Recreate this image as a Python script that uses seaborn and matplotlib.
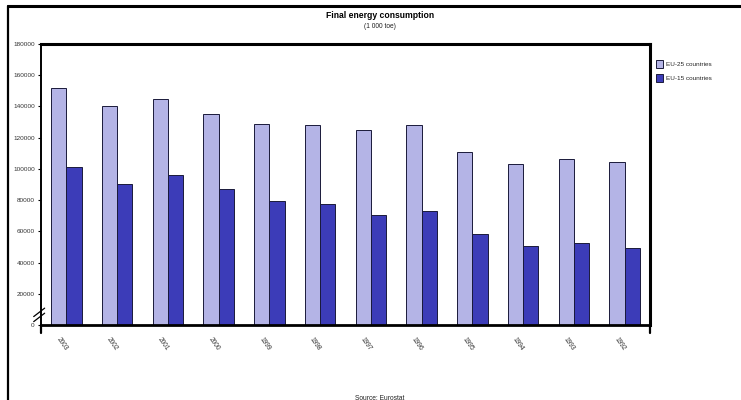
import matplotlib
matplotlib.use("Agg")
import matplotlib.pyplot as plt
import matplotlib.transforms as mtransforms
from matplotlib.lines import Line2D
import seaborn as sns
import pandas as pd

# Final energy consumption, thousand tonnes of oil equivalent
years = ["2003", "2002", "2001", "2000", "1999", "1998",
         "1997", "1996", "1995", "1994", "1993", "1992"]
series_names = ["EU-25 countries", "EU-15 countries"]
light_values = [152000, 140000, 145000, 135000, 129000, 128400,
                124800, 128400, 111100, 103000, 106600, 104300]
dark_values = [101100, 90400, 96000, 87000, 79400, 77400,
               70400, 73100, 58200, 50600, 52500, 49500]
y_ticks = [0, 20000, 40000, 60000, 80000, 100000, 120000, 140000, 160000, 180000]

df = pd.DataFrame({
    "year": years * 2,
    "series": [series_names[0]] * len(years) + [series_names[1]] * len(years),
    "value": light_values + dark_values,
})

sns.set_theme(style="white")
plt.rcParams["font.family"] = ["Liberation Sans", "DejaVu Sans"]

fig = plt.figure(figsize=(7.41, 4.0), dpi=100)
ax = fig.add_axes([41 / 741, 1 - 325 / 400, 609 / 741, 281 / 400])

palette = {series_names[0]: "#b4b4e6", series_names[1]: "#3c3cb8"}
sns.barplot(data=df, x="year", y="value", hue="series", order=years,
            hue_order=series_names, palette=palette, width=0.6,
            edgecolor="#1a1a3a", linewidth=0.7, saturation=1,
            ax=ax, legend=False)

ax.set_xlim(-0.5, len(years) - 0.5)
ax.set_ylim(0, 180000)
ax.set_yticks(y_ticks)
ax.set_yticklabels([str(v) for v in y_ticks], fontsize=4.6, color="#333333")
ax.tick_params(axis="y", length=2.5, width=0.8, pad=2, left=True, color="black")
ax.set_xticks(range(len(years)))
ax.set_xticklabels(years, rotation=-55, ha="left", va="top",
                   rotation_mode="anchor", fontsize=4.8, color="#333333")
ax.tick_params(axis="x", length=0, pad=8)
shift = mtransforms.ScaledTranslation(-6 / 100, 0, fig.dpi_scale_trans)
for lbl in ax.get_xticklabels():
    lbl.set_transform(lbl.get_transform() + shift)
ax.set_xlabel("")
ax.set_ylabel("")

for side, lw in (("left", 1.4), ("bottom", 2.0), ("top", 2.2), ("right", 2.2)):
    ax.spines[side].set_visible(True)
    ax.spines[side].set_color("black")
    ax.spines[side].set_linewidth(lw)

# end ticks below the category axis
for xf in (0.0, 1.0):
    ax.add_line(Line2D([xf, xf], [0, -0.028], transform=ax.transAxes,
                       color="black", lw=1.6, clip_on=False))

# axis break mark near the origin
for dy in (0.0, 0.018):
    ax.add_line(Line2D([-0.012, 0.006], [0.012 + dy, 0.042 + dy],
                       transform=ax.transAxes, color="black", lw=0.9,
                       clip_on=False))

# outer frame lines
fig.add_artist(Line2D([8 / 741, 1.0], [1 - 6 / 400, 1 - 6 / 400],
                      transform=fig.transFigure, color="black", lw=2.2))
fig.add_artist(Line2D([8 / 741, 8 / 741], [0.0, 1 - 6 / 400],
                      transform=fig.transFigure, color="black", lw=1.6))

fig.text(380 / 741, 1 - 15 / 400, "Final energy consumption", ha="center",
         va="center", fontsize=6.2, fontweight="bold", color="black")
fig.text(380 / 741, 1 - 27 / 400, "(1 000 toe)", ha="center", va="center",
         fontsize=4.8, color="#222222")
fig.text(380 / 741, 1 - 398 / 400, "Source: Eurostat", ha="center",
         va="center", fontsize=4.8, color="#222222")

handles = [plt.Rectangle((0, 0), 1, 1, facecolor=palette[s],
                         edgecolor="#1a1a3a", linewidth=0.7)
           for s in series_names]
fig.legend(handles, series_names, loc="upper left",
           bbox_to_anchor=(650 / 741, 1 - 54 / 400), frameon=False,
           fontsize=4.6, handlelength=1.1, handleheight=1.5,
           handletextpad=0.5, labelspacing=1.0)

fig.savefig("out.png", dpi=100)
